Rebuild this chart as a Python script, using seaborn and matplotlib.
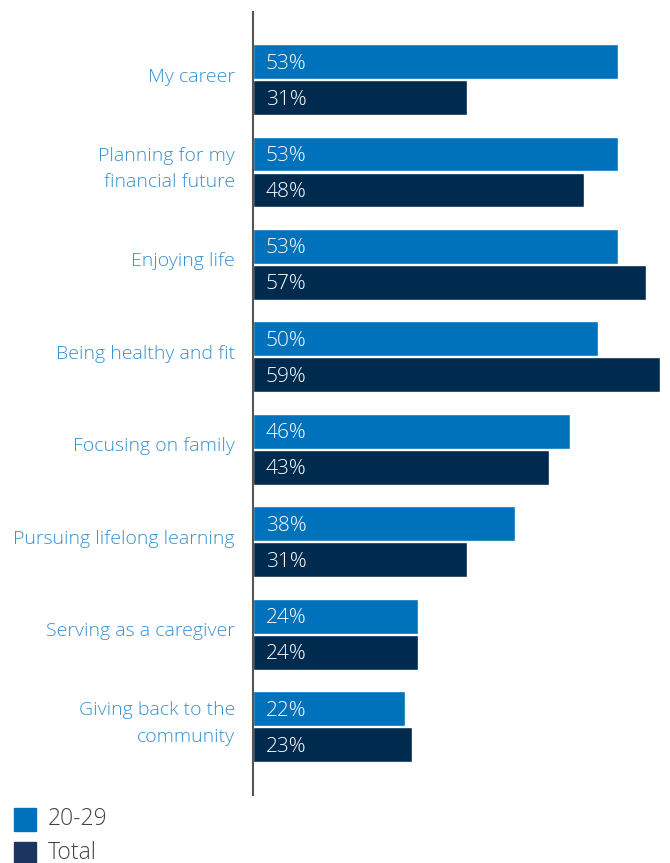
import matplotlib
matplotlib.use("Agg")
import matplotlib.pyplot as plt
from matplotlib.patches import Rectangle
import seaborn as sns
import pandas as pd

categories = [
    "My career",
    "Planning for my\nfinancial future",
    "Enjoying life",
    "Being healthy and fit",
    "Focusing on family",
    "Pursuing lifelong learning",
    "Serving as a caregiver",
    "Giving back to the\ncommunity",
]
group_20_29 = [53, 53, 53, 50, 46, 38, 24, 22]
group_total = [31, 48, 57, 59, 43, 31, 24, 23]
series_names = ["20-29", "Total"]

BLUE = "#0071BB"
NAVY = "#002A4E"
NAVY_LEGEND = "#1B3560"
LABEL_BLUE = "#3391D2"

df = pd.DataFrame({
    "category": categories * 2,
    "group": [series_names[0]] * len(categories) + [series_names[1]] * len(categories),
    "value": group_20_29 + group_total,
})

sns.set_theme(style="white")
plt.rcParams["font.family"] = ["Open Sans", "DejaVu Sans"]

fig = plt.figure(figsize=(6.7, 8.63), dpi=100)
ax = fig.add_axes([0.3776, 0.0788, 0.6224, 0.9072])

sns.barplot(
    data=df, y="category", x="value", hue="group",
    order=categories, hue_order=series_names,
    palette=[BLUE, NAVY], orient="h",
    width=0.78, gap=0.035, legend=False, ax=ax,
    saturation=1,
)

ax.set_xlim(0, 60.5)
ax.set_ylim(7.74, -0.73)
ax.set_xlabel("")
ax.set_ylabel("")
ax.set_xticks([])
ax.set_yticks([])
for s in ["top", "right", "bottom"]:
    ax.spines[s].set_visible(False)
ax.spines["left"].set_color("#555555")
ax.spines["left"].set_linewidth(1.5)

# category labels to the left of the axis
for i, cat in enumerate(categories):
    ax.annotate(
        cat, xy=(0, i), xycoords=("data", "data"),
        xytext=(-18, 3), textcoords="offset pixels",
        ha="right", va="center", color=LABEL_BLUE,
        fontsize=14, fontweight="light", linespacing=1.6,
        annotation_clip=False,
    )

# value labels inside each bar, near its start
for container in ax.containers:
    for bar, v in zip(container, container.datavalues):
        yc = bar.get_y() + bar.get_height() / 2
        ax.annotate(
            f"{v:.0f}%", xy=(0, yc), xytext=(13, -2),
            textcoords="offset pixels", ha="left", va="center",
            color="white", fontsize=15, fontweight="light",
        )

# legend
for i, (name, col) in enumerate(zip(series_names, [BLUE, NAVY_LEGEND])):
    y0 = 1 - (831 + i * 34) / 863
    fig.patches.append(Rectangle((14 / 670, y0), 22 / 670, 23 / 863,
                                 transform=fig.transFigure, color=col))
    fig.text(48 / 670, y0 + 12 / 863, name, color="#444444",
             fontsize=16.5, va="center", ha="left", fontweight="light")

fig.savefig("out.png", dpi=100)
